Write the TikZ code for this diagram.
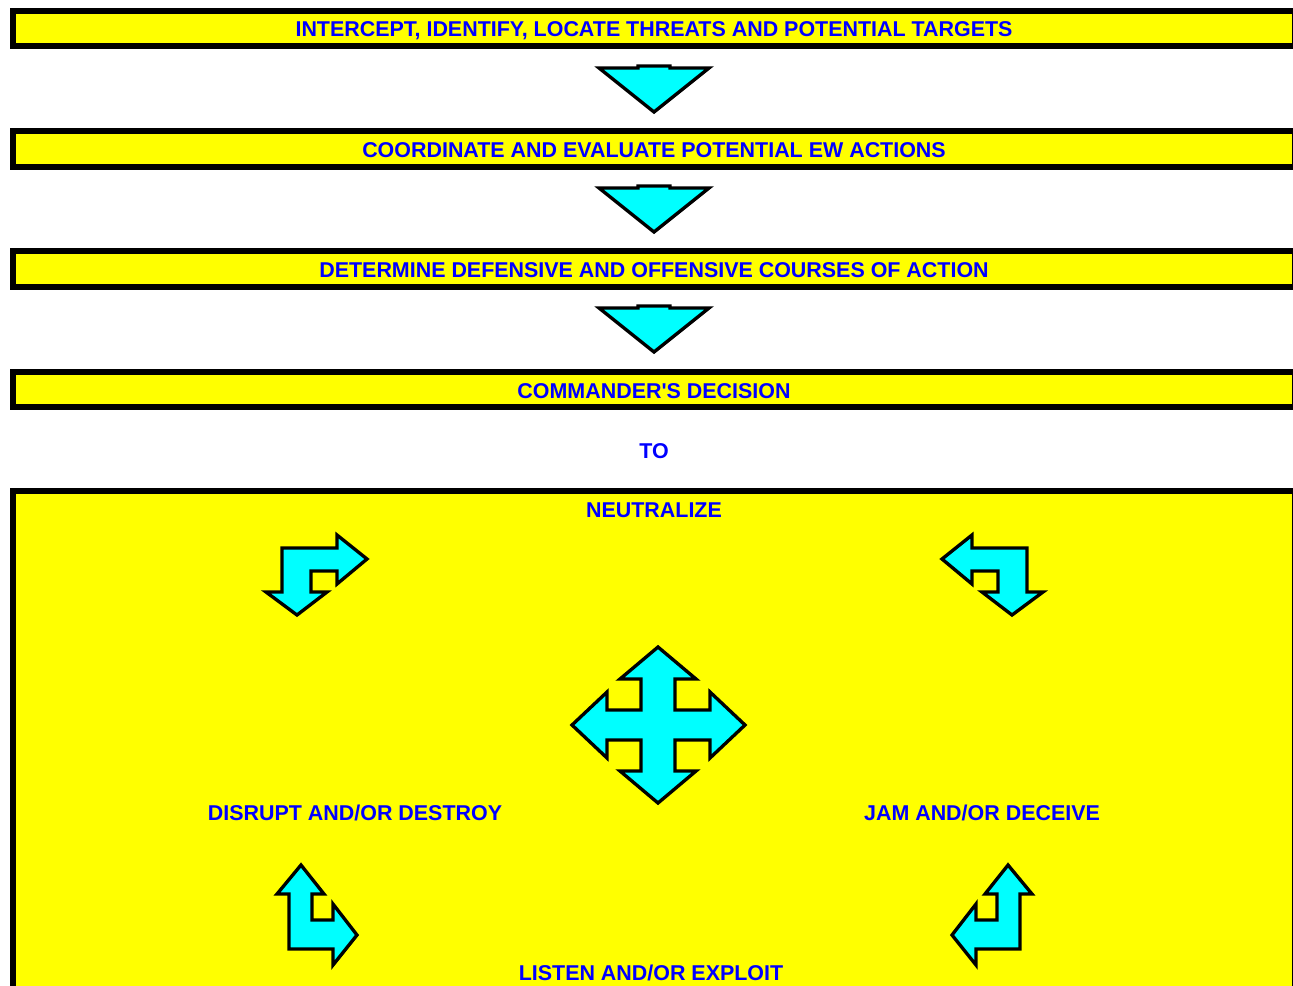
\documentclass[tikz,border=0pt]{standalone}
\usepackage{fontspec}
\setmainfont{Liberation Sans}
\definecolor{boxyellow}{RGB}{255,255,0}
\definecolor{arrowcyan}{RGB}{0,255,255}
\definecolor{textblue}{RGB}{0,0,255}
\begin{document}
\begin{tikzpicture}[x=0.02cm,y=-0.02cm,
  box/.style={draw=black,fill=boxyellow,line width=3.4pt},
  arrowshape/.style={draw=black,fill=arrowcyan,line width=1.9pt,line join=miter},
  lbl/.style={text=textblue,font=\bfseries\fontsize{12.2}{14}\selectfont,inner sep=0pt}]
\useasboundingbox (0,0) rectangle (1293,985);
% steps
\draw[box] (13,11) rectangle (1294.5,46);
\node[lbl] (intercept) at (654,30.5) {INTERCEPT, IDENTIFY, LOCATE THREATS AND POTENTIAL TARGETS};
\draw[box] (13,131) rectangle (1294.5,167);
\node[lbl] (coordinate) at (654,150.5) {COORDINATE AND EVALUATE POTENTIAL EW ACTIONS};
\draw[box] (13,251) rectangle (1294.5,287);
\node[lbl] (determine) at (654,270.5) {DETERMINE DEFENSIVE AND OFFENSIVE COURSES OF ACTION};
\draw[box] (13,372) rectangle (1294.5,407);
\node[lbl] (decision) at (654,391.5) {COMMANDER\textquotesingle S DECISION};
% down arrows
\begin{scope}[shift={(0,0)}]
\draw[arrowshape] (599,68) -- (638,68) -- (638,66) -- (670,66) -- (670,68) -- (709,68) -- (654,112) -- cycle;
\end{scope}
\begin{scope}[shift={(0,120)}]
\draw[arrowshape] (599,68) -- (638,68) -- (638,66) -- (670,66) -- (670,68) -- (709,68) -- (654,112) -- cycle;
\end{scope}
\begin{scope}[shift={(0,240)}]
\draw[arrowshape] (599,68) -- (638,68) -- (638,66) -- (670,66) -- (670,68) -- (709,68) -- (654,112) -- cycle;
\end{scope}
\node[lbl] (to) at (654,451) {TO};
% options
\draw[box] (13,491) rectangle (1294.5,1010);
\node[lbl] (neutralize) at (654,510) {NEUTRALIZE};
\node[lbl] (disrupt) at (355,813) {DISRUPT AND/OR DESTROY};
\node[lbl] (jam) at (982,813) {JAM AND/OR DECEIVE};
\node[lbl] (listen) at (651,973) {LISTEN AND/OR EXPLOIT};
% bent arrows
\draw[arrowshape] (282,548) -- (337,548) -- (337,535) -- (367,559) -- (337,584) -- (337,571)
      -- (311,571) -- (311,592) -- (327,592) -- (297,615) -- (266,592) -- (282,592) -- cycle;
\draw[arrowshape] (1027,548) -- (972,548) -- (972,535) -- (942,559) -- (972,584) -- (972,571)
      -- (998,571) -- (998,592) -- (982,592) -- (1012,615) -- (1043,592) -- (1027,592) -- cycle;
\draw[arrowshape] (301,865) -- (324,894) -- (312,894) -- (312,920) -- (333,920) -- (333,904)
      -- (357,935) -- (333,965) -- (333,949) -- (289,949) -- (289,894) -- (277,894) -- cycle;
\draw[arrowshape] (1008,865) -- (985,894) -- (997,894) -- (997,920) -- (976,920) -- (976,904)
      -- (952,935) -- (976,965) -- (976,949) -- (1020,949) -- (1020,894) -- (1032,894) -- cycle;
% four way arrow
\draw[arrowshape] (658,647) -- (696,679) -- (675,679) -- (675,710) -- (710,710) -- (710,692)
      -- (745,725) -- (710,758) -- (710,740) -- (675,740) -- (675,771) -- (696,771)
      -- (658,803) -- (620,771) -- (641,771) -- (641,740) -- (607,740) -- (607,758)
      -- (572,725) -- (607,692) -- (607,710) -- (641,710) -- (641,679) -- (620,679) -- cycle;
\end{tikzpicture}
\end{document}
